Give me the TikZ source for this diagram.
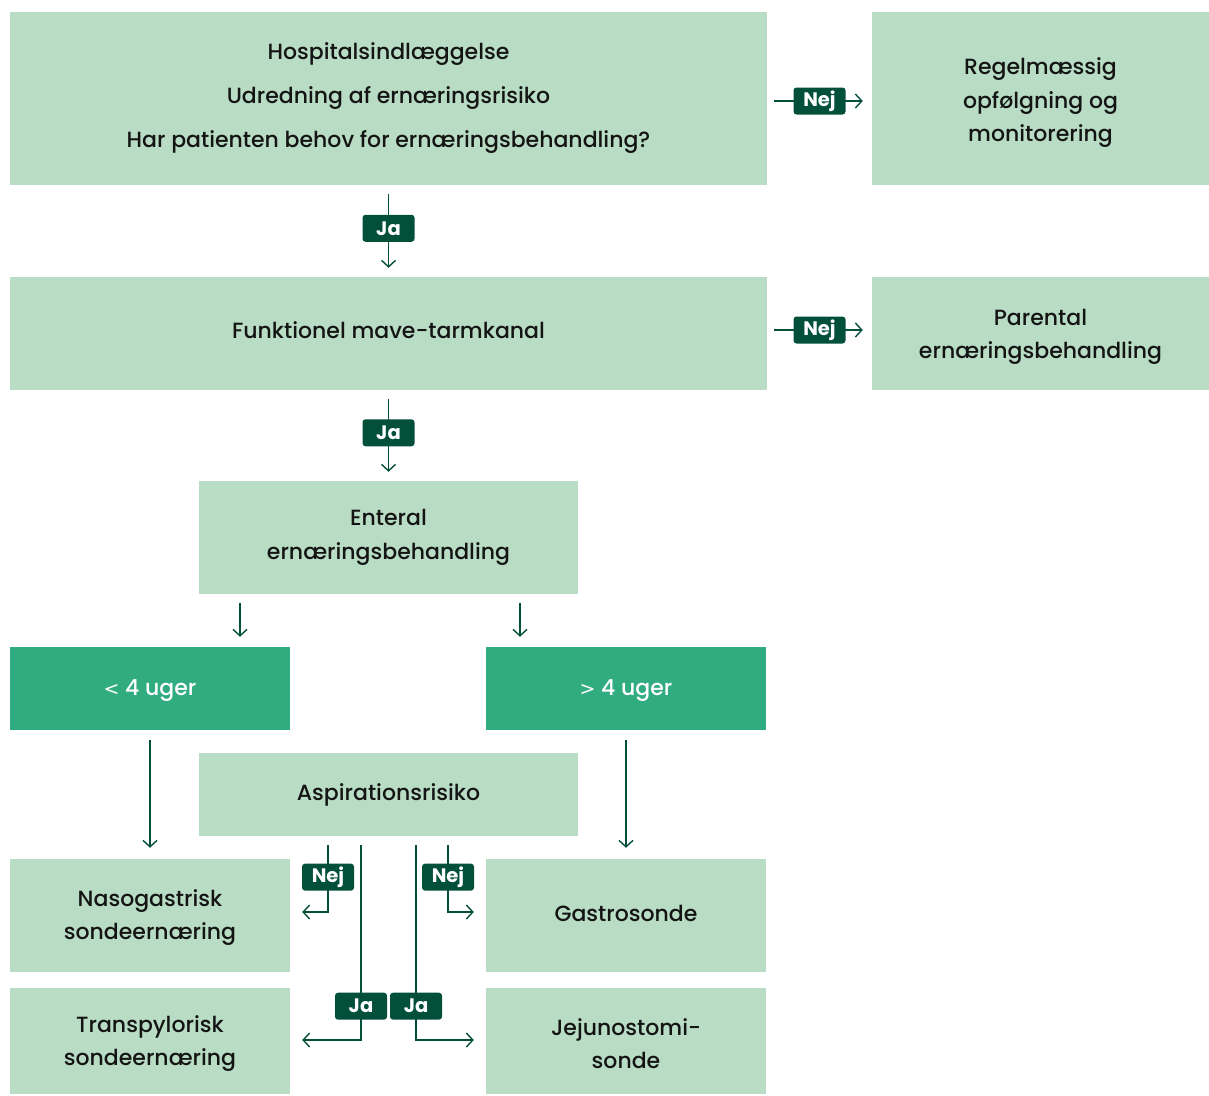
\documentclass[tikz,border=0pt]{standalone}
\usepackage{fontspec}
\IfFontExistsTF{Poppins Medium}
  {\setmainfont{Poppins Medium}[BoldFont=Poppins Bold]}
  {\setmainfont{Poppins}}
\newfontfamily\signfont{DejaVu Sans}
\usetikzlibrary{arrows.meta}
\definecolor{boxgreen}{RGB}{185,221,196}
\definecolor{midgreen}{RGB}{49,172,128}
\definecolor{darkgreen}{RGB}{2,80,58}
\definecolor{txt}{RGB}{20,20,20}
\tikzset{
  box/.style={fill=boxgreen, draw=none, text=txt, align=center, inner sep=0pt,
    font=\fontsize{22}{33.5}\selectfont},
  boxtext/.style={text=txt, align=center, inner sep=0pt,
    font=\fontsize{22}{33.5}\selectfont},
  period/.style={fill=midgreen, draw=none, text=white, align=center, inner sep=0pt,
    font=\fontsize{22}{33.5}\selectfont},
  lbl/.style={fill=darkgreen, text=white, rounded corners=3pt, inner sep=0pt,
    minimum width=52pt, minimum height=27pt, font=\fontsize{19.5}{19.5}\selectfont\bfseries},
  arr/.style={draw=darkgreen, line width=1.4pt,
    -{Straight Barb[length=6.5pt, width=14pt, line width=1.4pt]}},
}
\begin{document}
\begin{tikzpicture}[x=1pt, y=-1pt]
\useasboundingbox (0,0) rectangle (1209,1095);

% assessment and first decisions
\node[box, minimum width=757pt, minimum height=173pt, font=\fontsize{22}{44}\selectfont]
  (A) at (388.5,98.5) {Hospitalsindlæggelse\\Udredning af ernæringsrisiko\\Har patienten behov for ernæringsbehandling?};
\node[box, minimum width=337pt, minimum height=173pt] (R1) at (1040.5,98.5) {};
\node[boxtext] (R1t) at ([yshift=-4.5pt]R1.center) {Regelmæssig\\opfølgning og\\monitorering};
\node[box, minimum width=757pt, minimum height=113pt] (B) at (388.5,333.5) {};
\node[boxtext] (Bt) at ([yshift=3pt]B.center) {Funktionel mave-tarmkanal};
\node[box, minimum width=337pt, minimum height=113pt] (R2) at (1040.5,333.5) {};
\node[boxtext] (R2t) at ([yshift=-3.5pt]R2.center) {Parental\\ernæringsbehandling};
\node[box, minimum width=379pt, minimum height=113pt] (C) at (388.5,537.5)
  {Enteral\\ernæringsbehandling};

% duration
\node[period, minimum width=280pt, minimum height=83pt] (D) at (150,688.5) {};
\node[boxtext, text=white] (Dt) at ([yshift=-2pt]D.center) {{\signfont\fontsize{19}{19}\selectfont<} 4 uger};
\node[period, minimum width=280pt, minimum height=83pt] (E) at (626,688.5) {};
\node[boxtext, text=white] (Et) at ([yshift=-2pt]E.center) {{\signfont\fontsize{19}{19}\selectfont>} 4 uger};
\node[box, minimum width=379pt, minimum height=83pt] (F) at (388.5,794.5) {Aspirationsrisiko};

% feeding routes
\node[box, minimum width=280pt, minimum height=113pt] (G) at (150,915.5) {};
\node[boxtext] (Gt) at ([yshift=-2pt]G.center) {Nasogastrisk\\sondeernæring};
\node[box, minimum width=280pt, minimum height=113pt] (H) at (626,915.5) {};
\node[boxtext] (Ht) at ([yshift=2pt]H.center) {Gastrosonde};
\node[box, minimum width=280pt, minimum height=106pt] (I) at (150,1041) {};
\node[boxtext] (It) at ([yshift=-2.5pt]I.center) {Transpylorisk\\sondeernæring};
\node[box, minimum width=280pt, minimum height=106pt] (J) at (626,1041) {};
\node[boxtext] (Jt) at ([yshift=-2.5pt]J.center) {Jejunostomi-\\sonde};

% main flow
\draw[arr, shorten <=9pt, shorten >=9pt] (A) -- node[lbl, pos=0.47] {Ja} (B);
\draw[arr, shorten <=9pt, shorten >=9pt] (B) -- node[lbl, pos=0.47] {Ja} (C);
\draw[arr, shorten <=7pt, shorten >=9pt] ([yshift=-2.5pt]A.east) -- node[lbl] {Nej} ([yshift=-2.5pt]R1.west);
\draw[arr, shorten <=7pt, shorten >=9pt] ([yshift=3.5pt]B.east) -- node[lbl] {Nej} ([yshift=3.5pt]R2.west);

\draw[arr, shorten <=9pt, shorten >=10pt] ([xshift=-148.5pt]C.south) -- ([xshift=-148.5pt]C.south |- D.north);
\draw[arr, shorten <=9pt, shorten >=10pt] ([xshift=131.5pt]C.south) -- ([xshift=131.5pt]C.south |- E.north);
\draw[arr, shorten <=10pt, shorten >=11pt] (D) -- (G);
\draw[arr, shorten <=10pt, shorten >=11pt] (E) -- (H);

% aspiration risk branches
\draw[arr, shorten <=9pt, shorten >=12pt] ([xshift=-60.5pt]F.south) |- node[lbl, pos=0.27] {Nej} ([yshift=3.5pt]G.east);
\draw[arr, shorten <=9pt, shorten >=12pt] ([xshift=59.5pt]F.south) |- node[lbl, pos=0.27] {Nej} ([yshift=3.5pt]H.west);
\draw[arr, shorten <=9pt, shorten >=12pt] ([xshift=-27.5pt]F.south) |- node[lbl, pos=0.417] {Ja} ([yshift=1pt]I.east);
\draw[arr, shorten <=9pt, shorten >=12pt] ([xshift=27.5pt]F.south) |- node[lbl, pos=0.417] {Ja} ([yshift=1pt]J.west);
\end{tikzpicture}
\end{document}
